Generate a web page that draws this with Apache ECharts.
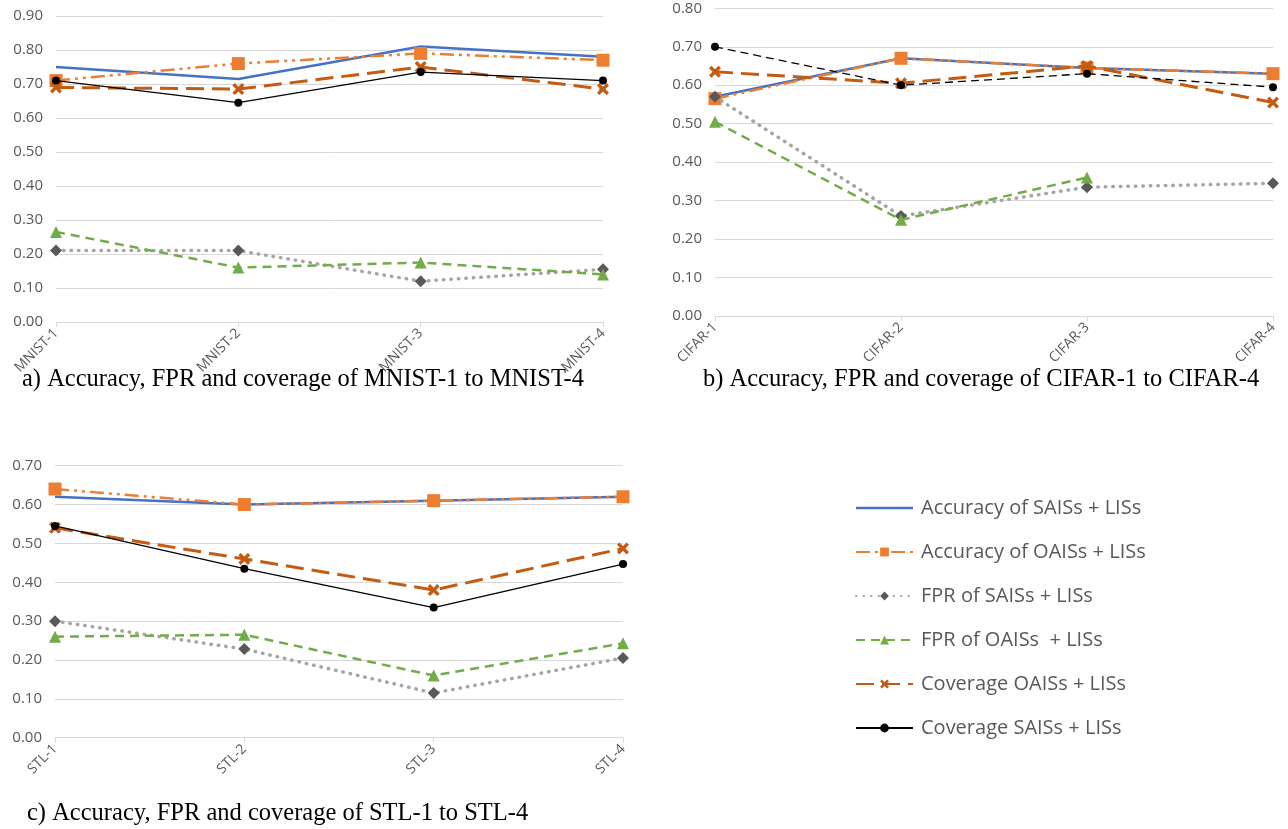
<!DOCTYPE html>
<html>
<head>
<meta charset="utf-8">
<script src="https://cdn.jsdelivr.net/npm/echarts@6/dist/echarts.min.js"></script>
<style>
html,body{margin:0;padding:0;background:#fff;}
#chart{width:1288px;height:829px;}
</style>
</head>
<body>
<div id="chart"></div>
<script>
// Categories
const mnistCats = ['MNIST-1','MNIST-2','MNIST-3','MNIST-4'];
const cifarCats = ['CIFAR-1','CIFAR-2','CIFAR-3','CIFAR-4'];
const stlCats = ['STL-1','STL-2','STL-3','STL-4'];

// Series names
const seriesNames = ['Accuracy of SAISs + LISs','Accuracy of OAISs + LISs','FPR of SAISs + LISs','FPR of OAISs  + LISs','Coverage OAISs + LISs','Coverage SAISs + LISs'];

// MNIST values
const mnistAccSAIS = [0.75, 0.715, 0.81, 0.78];
const mnistAccOAIS = [0.71, 0.76, 0.79, 0.77];
const mnistFprSAIS = [0.21, 0.21, 0.12, 0.155];
const mnistFprOAIS = [0.265, 0.16, 0.175, 0.14];
const mnistCovOAIS = [0.69, 0.685, 0.75, 0.685];
const mnistCovSAIS = [0.71, 0.645, 0.735, 0.71];

// CIFAR values
const cifarAccSAIS = [0.57, 0.67, 0.645, 0.63];
const cifarAccOAIS = [0.565, 0.67, 0.645, 0.63];
const cifarFprSAIS = [0.57, 0.26, 0.335, 0.345];
const cifarFprOAIS = [0.505, 0.25, 0.36, null];
const cifarCovOAIS = [0.635, 0.605, 0.65, 0.555];
const cifarCovSAIS = [0.70, 0.60, 0.63, 0.595];

// STL values
const stlAccSAIS = [0.62, 0.60, 0.61, 0.62];
const stlAccOAIS = [0.64, 0.60, 0.61, 0.62];
const stlFprSAIS = [0.30, 0.228, 0.115, 0.205];
const stlFprOAIS = [0.26, 0.265, 0.16, 0.243];
const stlCovOAIS = [0.54, 0.46, 0.38, 0.487];
const stlCovSAIS = [0.545, 0.435, 0.335, 0.447];

// Tick settings
const yMaxes = [0.9, 0.8, 0.7];
const yInterval = 0.1;

// Caption texts
const captions = [
  'a) Accuracy, FPR and coverage of MNIST-1 to MNIST-4',
  'b) Accuracy, FPR and coverage of CIFAR-1 to CIFAR-4',
  'c) Accuracy, FPR and coverage of STL-1 to STL-4'
];

const xPath = 'path://M0,2 L2,0 L5,3 L8,0 L10,2 L7,5 L10,8 L8,10 L5,7 L2,10 L0,8 L3,5 Z';
const lineIcon = 'path://M0,4.25 H57 V6.75 H0 Z M0,0 H0.01 V11 H0 Z';

function makeSeries(idx, vals, blackDashed) {
  const styles = [
    {color:'#4472C4', lineStyle:{width:2.5, type:'solid'}, symbol:'none', symbolSize:0},
    {color:'#ED7D31', lineStyle:{width:2.5, type:[14,5,3,5,3,5]}, symbol:'rect', symbolSize:13},
    {color:'#A5A5A5', itemColor:'#595959', lineStyle:{width:3.5, type:[0.5,7], cap:'round'}, symbol:'diamond', symbolSize:12},
    {color:'#70AD47', lineStyle:{width:2.5, type:[9,6]}, symbol:'triangle', symbolSize:12},
    {color:'#C55A11', lineStyle:{width:3, type:[18,8]}, symbol:xPath, symbolSize:12},
    {color:'#000000', lineStyle:{width:1.3, type: blackDashed ? [8,5] : 'solid'}, symbol:'circle', symbolSize:8}
  ];
  const out = [];
  for (let k = 0; k < 6; k++) {
    const s = styles[k];
    out.push({
      name: seriesNames[k],
      type: 'line',
      xAxisIndex: idx,
      yAxisIndex: idx,
      data: vals[k],
      symbol: s.symbol,
      symbolSize: s.symbolSize,
      showSymbol: s.symbol !== 'none',
      connectNulls: false,
      animation: false,
      lineStyle: Object.assign({color: s.color}, s.lineStyle),
      itemStyle: {color: s.itemColor || s.color, borderWidth: 0},
      z: 2 + k
    });
  }
  return out;
}

const grids = [
  {left:56, right:685, top:16, bottom:507},
  {left:715, right:15, top:8.3, bottom:513},
  {left:55, right:665, top:465.7, bottom:91.3}
];
const catsList = [mnistCats, cifarCats, stlCats];

const xAxes = catsList.map((cats, i) => ({
  type:'category', gridIndex:i, data:cats, boundaryGap:false,
  axisLine:{lineStyle:{color:'#D9D9D9', width:1}},
  axisTick:{show:true, alignWithLabel:true, length:5, lineStyle:{color:'#D9D9D9'}},
  axisLabel:{rotate:45, color:'#595959', fontSize:14, fontFamily:'Open Sans', margin:9}
}));
const yAxes = yMaxes.map((mx, i) => ({
  type:'value', gridIndex:i, min:0, max:mx, interval:yInterval,
  axisLine:{show:false}, axisTick:{show:false},
  splitLine:{lineStyle:{color:'#D9D9D9', width:1}},
  axisLabel:{color:'#595959', fontSize:15, fontFamily:'Open Sans', margin:13,
    formatter: v => v.toFixed(2)}
}));

const series = [].concat(
  makeSeries(0, [mnistAccSAIS, mnistAccOAIS, mnistFprSAIS, mnistFprOAIS, mnistCovOAIS, mnistCovSAIS], false),
  makeSeries(1, [cifarAccSAIS, cifarAccOAIS, cifarFprSAIS, cifarFprOAIS, cifarCovOAIS, cifarCovSAIS], true),
  makeSeries(2, [stlAccSAIS, stlAccOAIS, stlFprSAIS, stlFprOAIS, stlCovOAIS, stlCovSAIS], false)
);

const captionStyle = {fill:'#000', fontSize:24.5, fontFamily:'Liberation Serif', verticalAlign:'middle'};

const legendData = seriesNames.map((n, i) => i === 0 ? {name:n, icon:lineIcon} : {name:n});

const chart = echarts.init(document.getElementById('chart'), null, {renderer:'canvas'});
chart.setOption({
  backgroundColor:'#fff',
  animation:false,
  grid: grids,
  xAxis: xAxes,
  yAxis: yAxes,
  legend: {
    data: legendData,
    orient:'vertical',
    left:850, top:493,
    itemWidth:57, itemHeight:11, itemGap:24,
    textStyle:{color:'#595959', fontSize:20, fontFamily:'Open Sans', padding:[0,0,0,3]},
    selectedMode:false
  },
  graphic: [
    {type:'text', x:22, y:380, style:Object.assign({text:captions[0]}, captionStyle)},
    {type:'text', x:703, y:380, style:Object.assign({text:captions[1]}, captionStyle)},
    {type:'text', x:27, y:814, style:Object.assign({text:captions[2]}, captionStyle)}
  ],
  series: series
});
</script>
</body>
</html>
